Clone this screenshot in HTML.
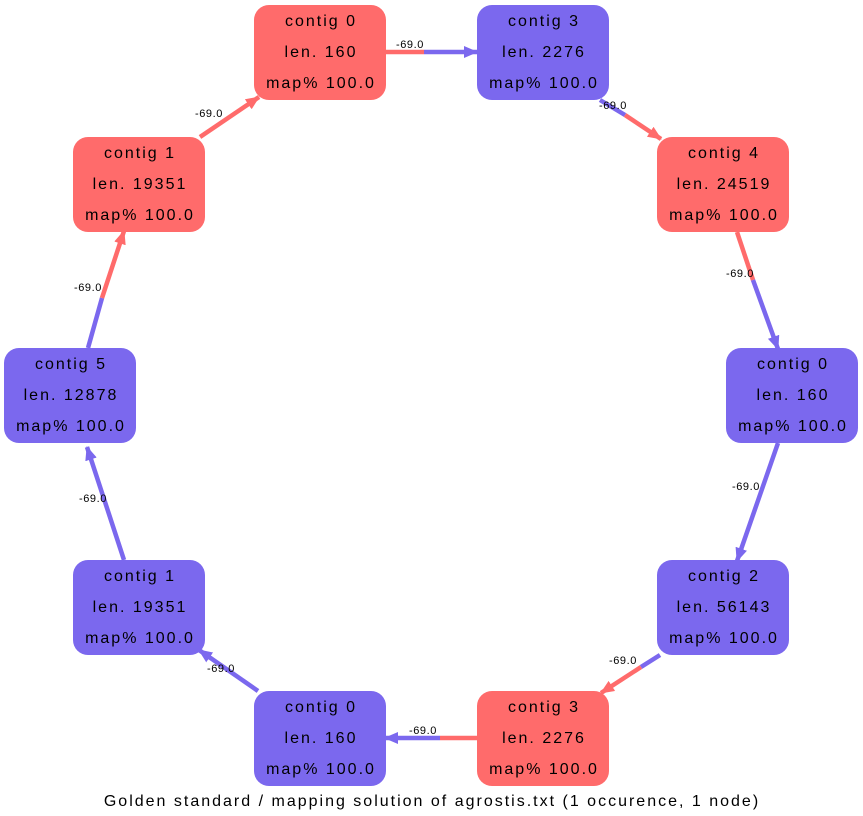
<!DOCTYPE html>
<html><head><meta charset="utf-8"><style>
html,body{margin:0;padding:0;background:#fff;}
svg{display:block;font-family:"Liberation Sans",sans-serif;}
.n{font-size:16px;text-anchor:middle;fill:#000;letter-spacing:2px;}
.l{font-size:11px;text-anchor:middle;fill:#000;letter-spacing:0.6px;}
</style></head><body>
<svg width="863" height="816" viewBox="0 0 863 816">
<defs>
<marker id="ar" markerUnits="userSpaceOnUse" markerWidth="14" markerHeight="12" refX="13" refY="6" orient="auto"><path d="M0,0 L14,6 L0,12 Z" fill="#ff6b6b"/></marker>
<marker id="ab" markerUnits="userSpaceOnUse" markerWidth="14" markerHeight="12" refX="13" refY="6" orient="auto"><path d="M0,0 L14,6 L0,12 Z" fill="#7b68ee"/></marker>
</defs>
<g stroke-width="4.5" fill="none">
<line x1="386" y1="52" x2="424" y2="52" stroke="#ff6b6b"/>
<line x1="424" y1="52" x2="477" y2="52" stroke="#7b68ee" marker-end="url(#ab)"/>
<line x1="600" y1="100" x2="625" y2="115" stroke="#7b68ee"/>
<line x1="625" y1="115" x2="661" y2="139" stroke="#ff6b6b" marker-end="url(#ar)"/>
<line x1="737" y1="232" x2="753" y2="280" stroke="#ff6b6b"/>
<line x1="753" y1="280" x2="778" y2="349" stroke="#7b68ee" marker-end="url(#ab)"/>
<line x1="778" y1="443" x2="737" y2="561" stroke="#7b68ee" marker-end="url(#ab)"/>
<line x1="660" y1="655" x2="641" y2="667" stroke="#7b68ee"/>
<line x1="641" y1="667" x2="601" y2="693" stroke="#ff6b6b" marker-end="url(#ar)"/>
<line x1="477" y1="738" x2="440" y2="738" stroke="#ff6b6b"/>
<line x1="440" y1="738" x2="385" y2="738" stroke="#7b68ee" marker-end="url(#ab)"/>
<line x1="258" y1="691" x2="199" y2="650" stroke="#7b68ee" marker-end="url(#ab)"/>
<line x1="124" y1="560" x2="87" y2="447" stroke="#7b68ee" marker-end="url(#ab)"/>
<line x1="88" y1="348" x2="102" y2="298" stroke="#7b68ee"/>
<line x1="102" y1="298" x2="124" y2="231" stroke="#ff6b6b" marker-end="url(#ar)"/>
<line x1="200" y1="137" x2="259" y2="97" stroke="#ff6b6b" marker-end="url(#ar)"/>
</g>
<g>
<rect x="254" y="5" width="132" height="95" rx="15" fill="#ff6b6b"/>
<rect x="477" y="5" width="132" height="95" rx="15" fill="#7b68ee"/>
<rect x="657" y="137" width="132" height="95" rx="15" fill="#ff6b6b"/>
<rect x="726" y="348" width="132" height="95" rx="15" fill="#7b68ee"/>
<rect x="657" y="560" width="132" height="95" rx="15" fill="#7b68ee"/>
<rect x="477" y="691" width="132" height="95" rx="15" fill="#ff6b6b"/>
<rect x="254" y="691" width="132" height="95" rx="15" fill="#7b68ee"/>
<rect x="73" y="560" width="132" height="95" rx="15" fill="#7b68ee"/>
<rect x="4" y="348" width="132" height="95" rx="15" fill="#7b68ee"/>
<rect x="73" y="137" width="132" height="95" rx="15" fill="#ff6b6b"/>
</g>
<g class="n">
<text x="321" y="26">contig 0</text><text x="321" y="57">len. 160</text><text x="321" y="88">map% 100.0</text>
<text x="544" y="26">contig 3</text><text x="544" y="57">len. 2276</text><text x="544" y="88">map% 100.0</text>
<text x="724" y="158">contig 4</text><text x="724" y="189">len. 24519</text><text x="724" y="220">map% 100.0</text>
<text x="793" y="369">contig 0</text><text x="793" y="400">len. 160</text><text x="793" y="431">map% 100.0</text>
<text x="724" y="581">contig 2</text><text x="724" y="612">len. 56143</text><text x="724" y="643">map% 100.0</text>
<text x="544" y="712">contig 3</text><text x="544" y="743">len. 2276</text><text x="544" y="774">map% 100.0</text>
<text x="321" y="712">contig 0</text><text x="321" y="743">len. 160</text><text x="321" y="774">map% 100.0</text>
<text x="140" y="581">contig 1</text><text x="140" y="612">len. 19351</text><text x="140" y="643">map% 100.0</text>
<text x="71" y="369">contig 5</text><text x="71" y="400">len. 12878</text><text x="71" y="431">map% 100.0</text>
<text x="140" y="158">contig 1</text><text x="140" y="189">len. 19351</text><text x="140" y="220">map% 100.0</text>
</g>
<g class="l">
<text x="410" y="48">-69.0</text>
<text x="613" y="109">-69.0</text>
<text x="740" y="277">-69.0</text>
<text x="746" y="490">-69.0</text>
<text x="623" y="664">-69.0</text>
<text x="423" y="734">-69.0</text>
<text x="221" y="672">-69.0</text>
<text x="93" y="502">-69.0</text>
<text x="88" y="291">-69.0</text>
<text x="209" y="117">-69.0</text>
</g>
<text x="432" y="806" style="font-size:16px;text-anchor:middle;letter-spacing:2px">Golden standard / mapping solution of agrostis.txt (1 occurence, 1 node)</text>
</svg>
</body></html>
